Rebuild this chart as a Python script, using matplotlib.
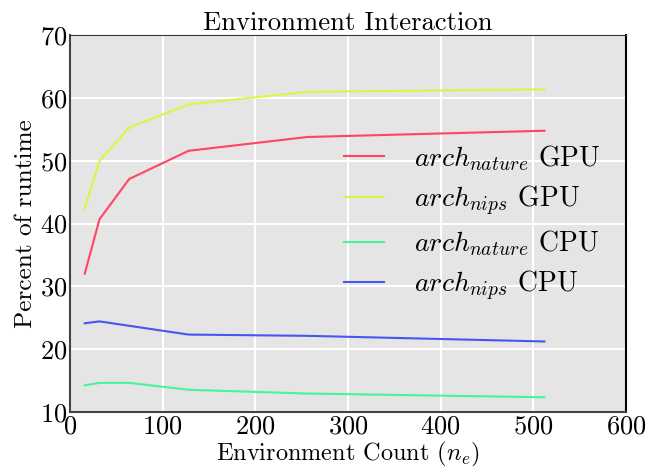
import matplotlib
matplotlib.use("Agg")
import matplotlib.pyplot as plt

# Environment counts and share of runtime spent on environment interaction (%)
env_counts = [16, 32, 64, 128, 256, 512]
nature_gpu = [32.0, 40.7, 47.1, 51.6, 53.8, 54.8]
nips_gpu = [42.4, 50.0, 55.3, 59.0, 61.0, 61.4]
nature_cpu = [14.2, 14.6, 14.6, 13.5, 12.9, 12.3]
nips_cpu = [24.1, 24.4, 23.7, 22.3, 22.1, 21.2]

series_labels = [r"$arch_{nature}$ GPU", r"$arch_{nips}$ GPU",
                 r"$arch_{nature}$ CPU", r"$arch_{nips}$ CPU"]
series_colors = ["#FF4563", "#DEF53F", "#45F59A", "#4556F5"]

x_ticks = [0, 100, 200, 300, 400, 500, 600]
y_ticks = [10, 20, 30, 40, 50, 60, 70]

plt.rcParams.update({
    "font.family": "serif",
    "font.serif": ["cmr10", "DejaVu Serif"],
    "mathtext.fontset": "cm",
    "axes.formatter.use_mathtext": True,
    "axes.unicode_minus": False,
})

fig = plt.figure(figsize=(6.47, 4.66), dpi=100)
ax = fig.add_axes([0.108, 0.1165, 0.8595, 0.8075])
ax.set_facecolor("#E5E5E5")

for ys, lab, col in zip([nature_gpu, nips_gpu, nature_cpu, nips_cpu],
                        series_labels, series_colors):
    ax.plot(env_counts, ys, color=col, lw=1.5, label=lab)

ax.set_xlim(0, 600)
ax.set_ylim(10, 70)
ax.set_xticks(x_ticks)
ax.set_yticks(y_ticks)
ax.grid(True, color="white", lw=1.5)
ax.set_axisbelow(True)
ax.tick_params(length=0, pad=2, labelsize=19)

for side in ("left", "bottom"):
    ax.spines[side].set_color("#444444")
    ax.spines[side].set_linewidth(1.5)
ax.spines["right"].set_color("black")
ax.spines["right"].set_linewidth(1.5)
ax.spines["top"].set_color("#333333")
ax.spines["top"].set_linewidth(0.8)

ax.set_title("Environment Interaction", fontsize=19.2, pad=4)
ax.set_xlabel(r"Environment Count ($n_e$)", fontsize=17.5, labelpad=1)
ax.set_ylabel("Percent of runtime", fontsize=18.2, labelpad=2)

ax.legend(loc="upper left", bbox_to_anchor=(0.448, 0.78), frameon=False,
          fontsize=20, handlelength=1.45, handletextpad=1.08,
          labelspacing=0.38)

fig.savefig("out.png", dpi=100)
